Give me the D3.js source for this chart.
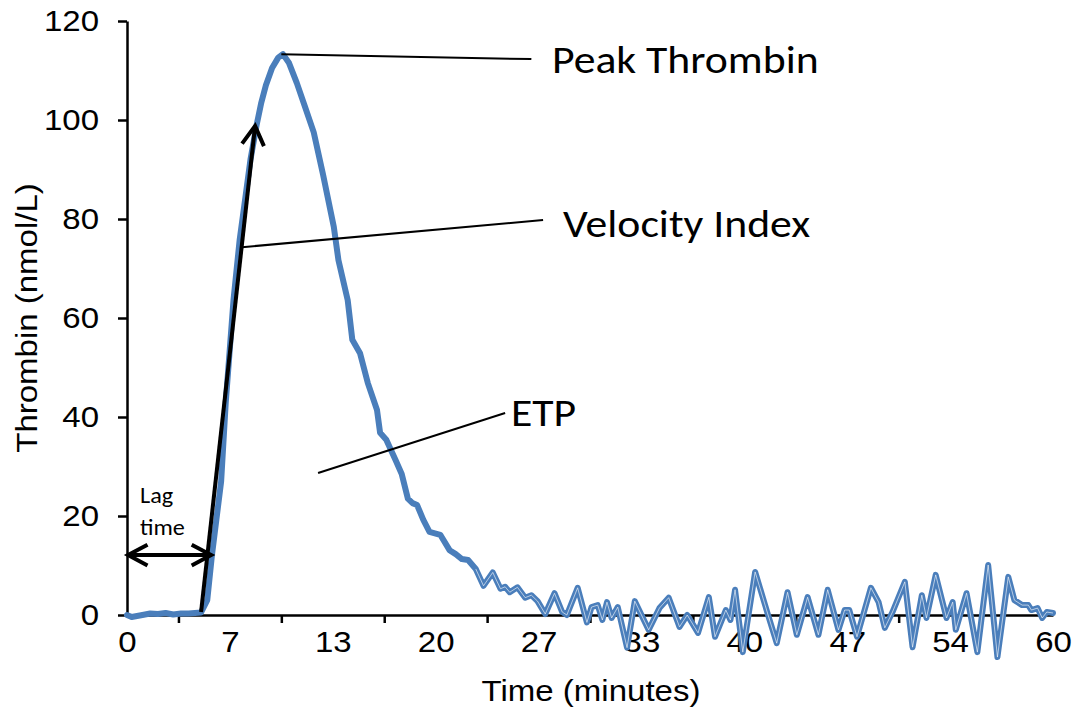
<!DOCTYPE html>
<html>
<head>
<meta charset="utf-8">
<script src="https://cdn.jsdelivr.net/npm/d3@7"></script>
<style>
  html, body { margin: 0; padding: 0; background: #ffffff; }
  svg { display: block; }
</style>
</head>
<body>
<svg id="chart" width="1081" height="713"></svg>
<script>
// Thrombin generation curve (time in minutes, thrombin in nmol/L)
const times = [
  0, 0.3, 1, 1.5, 2, 2.5, 3, 3.5, 4, 4.8,
  5.2, 5.5, 6.1, 6.4, 6.9, 7.3, 7.7, 8.0, 8.4, 8.7, 9.0, 9.4, 9.8, 10.1,
  10.5, 11.0, 11.5, 12.1, 12.7, 13.4, 13.7, 14.3, 14.6, 15.1, 15.6, 16.2, 16.4, 16.8, 17.4, 17.8,
  18.2, 18.5, 18.8, 19.2, 19.6, 20.3, 20.9, 21.3, 21.7, 22.1, 22.6, 23.1, 23.7,
  24.2, 24.5, 24.8, 25.3, 25.8, 26.2, 26.6, 27.1, 27.7, 28.2, 28.5, 29.2, 29.8,
  30.1, 30.5, 30.8, 31.1, 31.4, 31.8, 32.4, 32.9, 33.8, 34.5, 35.1, 35.8, 36.3,
  37.0, 37.7, 38.1, 38.8, 39.1, 39.4, 39.9, 40.7, 41.5, 42.1, 42.8, 43.4, 44.1,
  44.8, 45.4, 46.1, 46.5, 46.8, 47.3, 48.2, 48.7, 49.1, 49.6, 50.4, 50.9, 51.5,
  51.8, 52.4, 53.1, 53.5, 53.7, 54.4, 55.1, 55.8, 56.4, 57.1, 57.5, 58.0, 58.4,
  58.6, 59.0, 59.3, 59.6, 60
];
const thrombin = [
  0, -0.4, 0, 0.3, 0.2, 0.4, 0.1, 0.3, 0.3, 0.5,
  3, 12, 27, 43, 63.6, 75.8, 85, 92, 99, 103.5, 107, 110.5, 112.6, 113.3,
  111.5, 107.5, 103, 97.5, 89, 78.4, 71.7, 63.6, 55.6, 52.9, 46.9, 41.4, 36.8, 35.4, 31.3, 28.5,
  23.5, 22.6, 22.2, 19.2, 16.8, 16.2, 13.1, 12.3, 11.3, 11.1, 9.3, 5.9, 8.6,
  5.3, 5.7, 4.6, 5.6, 3.5, 4.0, 2.8, 0.2, 4.4, 0.6, 0, 5.5, -1.5,
  1.6, 2.0, -1.0, 2.6, -0.6, 1.6, -6.6, 2.8, -3.0, 1.4, 3.5, -2.4, 0,
  -3.6, 3.6, -4.4, 1.0, -1.0, 5.1, -7.5, 8.7, 0.4, -5.7, 4.6, -4.0, 3.6,
  -4.0, 5.1, -3.0, 1.0, 1.0, -4.4, 5.5, 2.6, -2.6, 0.6, 6.7, -6.5, 4.0,
  -0.6, 8.1, -0.6, 2.6, -3.0, 4.4, -7.5, 10.1, -8.5, 7.7, 3.0, 2.0, 2.0,
  1.0, 1.4, -0.6, 0.6, 0.4
];

// Axis labels
const timeTickLabels = ["0", "7", "13", "20", "27", "33", "40", "47", "54", "60"];
const thrombinTicks = [0, 20, 40, 60, 80, 100, 120];

// Callout labels
const calloutLabels = ["Peak Thrombin", "Velocity Index", "ETP"];
const lagLabel = ["Lag", "time"];

const svg = d3.select("#chart");
const x = d3.scaleLinear().domain([0, 60]).range([127, 1053]);
const y = d3.scaleLinear().domain([0, 120]).range([615, 21]);

const blue = "#4a7ebb";
const axisFont = "'Liberation Sans', Arial, sans-serif";
const noteFont = "Carlito, Lato, 'Open Sans', sans-serif";
const axisSize = 30;
const noteSize = 39;
const widen = 1.1;   // glyphs are set slightly wide

// stretch a text element's glyphs horizontally by a factor
function widenText(sel, k) {
  sel.each(function () {
    const w = this.getComputedTextLength();
    this.setAttribute("textLength", (w * k).toFixed(2));
    this.setAttribute("lengthAdjust", "spacingAndGlyphs");
  });
}

// ---- axes ----
const labelStep = 60 / (timeTickLabels.length - 1);
const labelPos = timeTickLabels.map((_, i) => i * labelStep);
const tickPos = labelPos.slice(0, -1).map(v => v + labelStep / 2);

const yAxis = svg.append("g")
  .attr("transform", `translate(${x(0)},0)`)
  .call(d3.axisLeft(y).tickValues(thrombinTicks).tickSize(9).tickPadding(19).tickSizeOuter(0));

const xTicks = svg.append("g")
  .attr("transform", `translate(0,${y(0)})`)
  .call(d3.axisBottom(x).tickValues(tickPos).tickSize(8).tickFormat("").tickSizeOuter(0));

const xLabels = svg.append("g")
  .attr("transform", `translate(0,${y(0)})`)
  .call(d3.axisBottom(x).tickValues(labelPos).tickSize(0).tickPadding(16)
    .tickFormat((d, i) => timeTickLabels[i]).tickSizeOuter(0));
xLabels.select(".domain").remove();

[yAxis, xTicks].forEach(g => {
  g.select(".domain").attr("stroke", "#000").attr("stroke-width", 2.5);
  g.selectAll(".tick line").attr("stroke", "#000").attr("stroke-width", 2.5);
});
[yAxis, xLabels].forEach(g => {
  g.selectAll("text").attr("font-family", axisFont).attr("font-size", axisSize).attr("fill", "#000")
    .call(widenText, widen);
});

svg.append("text")
  .attr("x", 591).attr("y", 701)
  .attr("text-anchor", "middle")
  .attr("font-family", axisFont).attr("font-size", axisSize)
  .text("Time (minutes)")
  .call(widenText, widen);

svg.append("text")
  .attr("transform", `translate(37,${(y(0) + y(120)) / 2}) rotate(-90)`)
  .attr("text-anchor", "middle")
  .attr("font-family", axisFont).attr("font-size", axisSize)
  .text("Thrombin (nmol/L)")
  .call(widenText, widen);

// ---- thrombin curve ----
const points = times.map((t, i) => ({ t, v: thrombin[i] }));
const line = d3.line().x(d => x(d.t)).y(d => y(d.v));

svg.append("path")
  .datum(points)
  .attr("d", line)
  .attr("fill", "none")
  .attr("stroke", blue)
  .attr("stroke-width", 6)
  .attr("stroke-linejoin", "round")
  .attr("stroke-linecap", "round");

// thin light core along the noisy tail of the trace
svg.append("path")
  .datum(points.filter(d => d.t >= 22.6))
  .attr("d", line)
  .attr("fill", "none")
  .attr("stroke", "#ffffff")
  .attr("stroke-opacity", 0.6)
  .attr("stroke-width", 1)
  .attr("stroke-linejoin", "round");

// ---- annotations ----
function chevron(tipX, tipY, fromX, fromY, len, angleDeg) {
  const a = Math.atan2(fromY - tipY, fromX - tipX);
  const da = angleDeg * Math.PI / 180;
  const p1 = [tipX + len * Math.cos(a + da), tipY + len * Math.sin(a + da)];
  const p2 = [tipX + len * Math.cos(a - da), tipY + len * Math.sin(a - da)];
  return `M${p1[0]},${p1[1]}L${tipX},${tipY}L${p2[0]},${p2[1]}`;
}

// velocity arrow
const vStart = [x(4.8), y(0.6)];
const vTip = [x(8.3), y(98.8)];
svg.append("line")
  .attr("x1", vStart[0]).attr("y1", vStart[1])
  .attr("x2", vTip[0]).attr("y2", vTip[1])
  .attr("stroke", "#000").attr("stroke-width", 4);
svg.append("path")
  .attr("d", chevron(vTip[0], vTip[1], vStart[0], vStart[1], 22, 30))
  .attr("fill", "none").attr("stroke", "#000").attr("stroke-width", 4)
  .attr("stroke-linejoin", "miter");

// lag time double arrow
const lagY = y(12.1);
const lagL = x(0.07), lagR = x(5.45);
svg.append("line")
  .attr("x1", lagL).attr("y1", lagY).attr("x2", lagR).attr("y2", lagY)
  .attr("stroke", "#000").attr("stroke-width", 4);
svg.append("path")
  .attr("d", chevron(lagL, lagY, lagR, lagY, 22, 28))
  .attr("fill", "none").attr("stroke", "#000").attr("stroke-width", 4);
svg.append("path")
  .attr("d", chevron(lagR, lagY, lagL, lagY, 22, 28))
  .attr("fill", "none").attr("stroke", "#000").attr("stroke-width", 4);

svg.selectAll("text.lag").data(lagLabel).join("text")
  .attr("class", "lag")
  .attr("x", 140).attr("y", (d, i) => 503 + i * 32)
  .attr("font-family", noteFont).attr("font-size", 22)
  .attr("fill", "#000")
  .text(d => d)
  .call(widenText, widen);

// callout leader lines (data space) and labels
const callouts = [
  { from: [10.0, 113.3], to: [26.2, 112.3], tx: 552, ty: 73 },
  { from: [7.45, 74.3], to: [26.96, 79.8], tx: 563, ty: 237 },
  { from: [12.38, 28.7], to: [24.5, 40.8], tx: 511, ty: 426 }
];
callouts.forEach((c, i) => {
  svg.append("line")
    .attr("x1", x(c.from[0])).attr("y1", y(c.from[1]))
    .attr("x2", x(c.to[0])).attr("y2", y(c.to[1]))
    .attr("stroke", "#000").attr("stroke-width", 2);
  svg.append("text")
    .attr("x", c.tx).attr("y", c.ty)
    .attr("font-family", noteFont).attr("font-size", noteSize)
    .attr("fill", "#000")
    .text(calloutLabels[i])
    .call(widenText, 1.12);
});
</script>
</body>
</html>
